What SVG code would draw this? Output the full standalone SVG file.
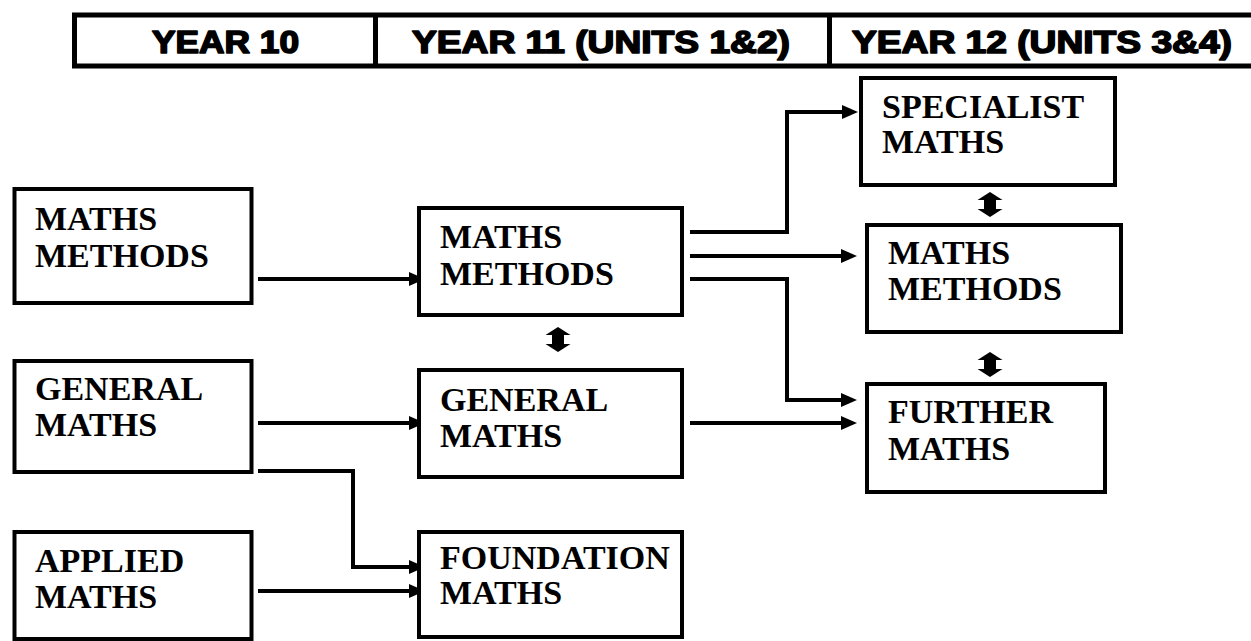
<svg xmlns="http://www.w3.org/2000/svg" width="1251" height="641" viewBox="0 0 1251 641">
<style>
.box{fill:#fff;stroke:#000;stroke-width:4}
.hdr{font-family:'Liberation Sans',Arial,sans-serif;font-weight:900;font-size:31px;fill:#000;stroke:#000;stroke-width:1.6;stroke-linejoin:round;text-anchor:middle}
.con{fill:none;stroke:#000;stroke-width:4}
</style>
<defs>
<marker id="ah" markerUnits="userSpaceOnUse" markerWidth="16" markerHeight="14" refX="8" refY="7" orient="auto">
<path d="M0,0 L16,7 L0,14 Z" fill="#000"/>
</marker>
<path id="dbl" d="M0,0 L12.5,8 L6,8 L6,17 L12.5,17 L0,25 L-12.5,17 L-6,17 L-6,8 L-12.5,8 Z" fill="#000"/>
</defs>
<rect width="1251" height="641" fill="#fff"/>
<g id="header">
<rect x="74.5" y="15" width="1300" height="51" fill="#fff" stroke="#000" stroke-width="5"/>
<line x1="375.5" y1="15" x2="375.5" y2="66" stroke="#000" stroke-width="5"/>
<line x1="829.5" y1="15" x2="829.5" y2="66" stroke="#000" stroke-width="5"/>
<text class="hdr" x="225.5" y="53" textLength="147" lengthAdjust="spacingAndGlyphs">YEAR 10</text>
<text class="hdr" x="601" y="53" textLength="378" lengthAdjust="spacingAndGlyphs">YEAR 11 (UNITS 1&amp;2)</text>
<text class="hdr" x="1042" y="53" textLength="380" lengthAdjust="spacingAndGlyphs">YEAR 12 (UNITS 3&amp;4)</text>
</g>
<g id="connectors">
<path class="con" d="M258,279 H417" marker-end="url(#ah)"/>
<path class="con" d="M258,423 H417" marker-end="url(#ah)"/>
<path class="con" d="M258,471 H353 V567 H417" marker-end="url(#ah)"/>
<path class="con" d="M258,591 H417" marker-end="url(#ah)"/>
<path class="con" d="M690,232 H787 V112 H850" marker-end="url(#ah)"/>
<path class="con" d="M690,256 H849" marker-end="url(#ah)"/>
<path class="con" d="M690,279 H787 V400 H849" marker-end="url(#ah)"/>
<path class="con" d="M690,423 H849" marker-end="url(#ah)"/>
<use href="#dbl" x="558" y="327"/>
<use href="#dbl" x="990" y="192"/>
<use href="#dbl" x="990" y="352"/>
</g>
<g font-family="Liberation Serif, Times New Roman, Times, DejaVu Serif, serif" font-weight="bold" font-size="34" fill="#000">
<g id="y10-methods">
<rect class="box" x="14.5" y="189" width="237" height="114"/>
<text x="35" y="230">MATHS</text>
<text x="35" y="267">METHODS</text>
</g>
<g id="y10-general">
<rect class="box" x="14.5" y="361" width="237" height="111"/>
<text x="35" y="400">GENERAL</text>
<text x="35" y="436">MATHS</text>
</g>
<g id="y10-applied">
<rect class="box" x="14.5" y="532" width="237" height="107"/>
<text x="35" y="572">APPLIED</text>
<text x="35" y="608">MATHS</text>
</g>
<g id="y11-methods">
<rect class="box" x="419" y="208" width="263" height="107"/>
<text x="440" y="248">MATHS</text>
<text x="440" y="285">METHODS</text>
</g>
<g id="y11-general">
<rect class="box" x="419" y="370" width="263" height="107"/>
<text x="440" y="411">GENERAL</text>
<text x="440" y="447">MATHS</text>
</g>
<g id="y11-foundation">
<rect class="box" x="419" y="532" width="263" height="105"/>
<text x="440" y="569">FOUNDATION</text>
<text x="440" y="604">MATHS</text>
</g>
<g id="y12-specialist">
<rect class="box" x="861" y="78" width="254" height="107"/>
<text x="882" y="118">SPECIALIST</text>
<text x="882" y="153">MATHS</text>
</g>
<g id="y12-methods">
<rect class="box" x="867" y="225" width="254" height="107"/>
<text x="888" y="264">MATHS</text>
<text x="888" y="300">METHODS</text>
</g>
<g id="y12-further">
<rect class="box" x="867" y="384" width="238" height="108"/>
<text x="888" y="423">FURTHER</text>
<text x="888" y="460">MATHS</text>
</g>
</g>
</svg>
